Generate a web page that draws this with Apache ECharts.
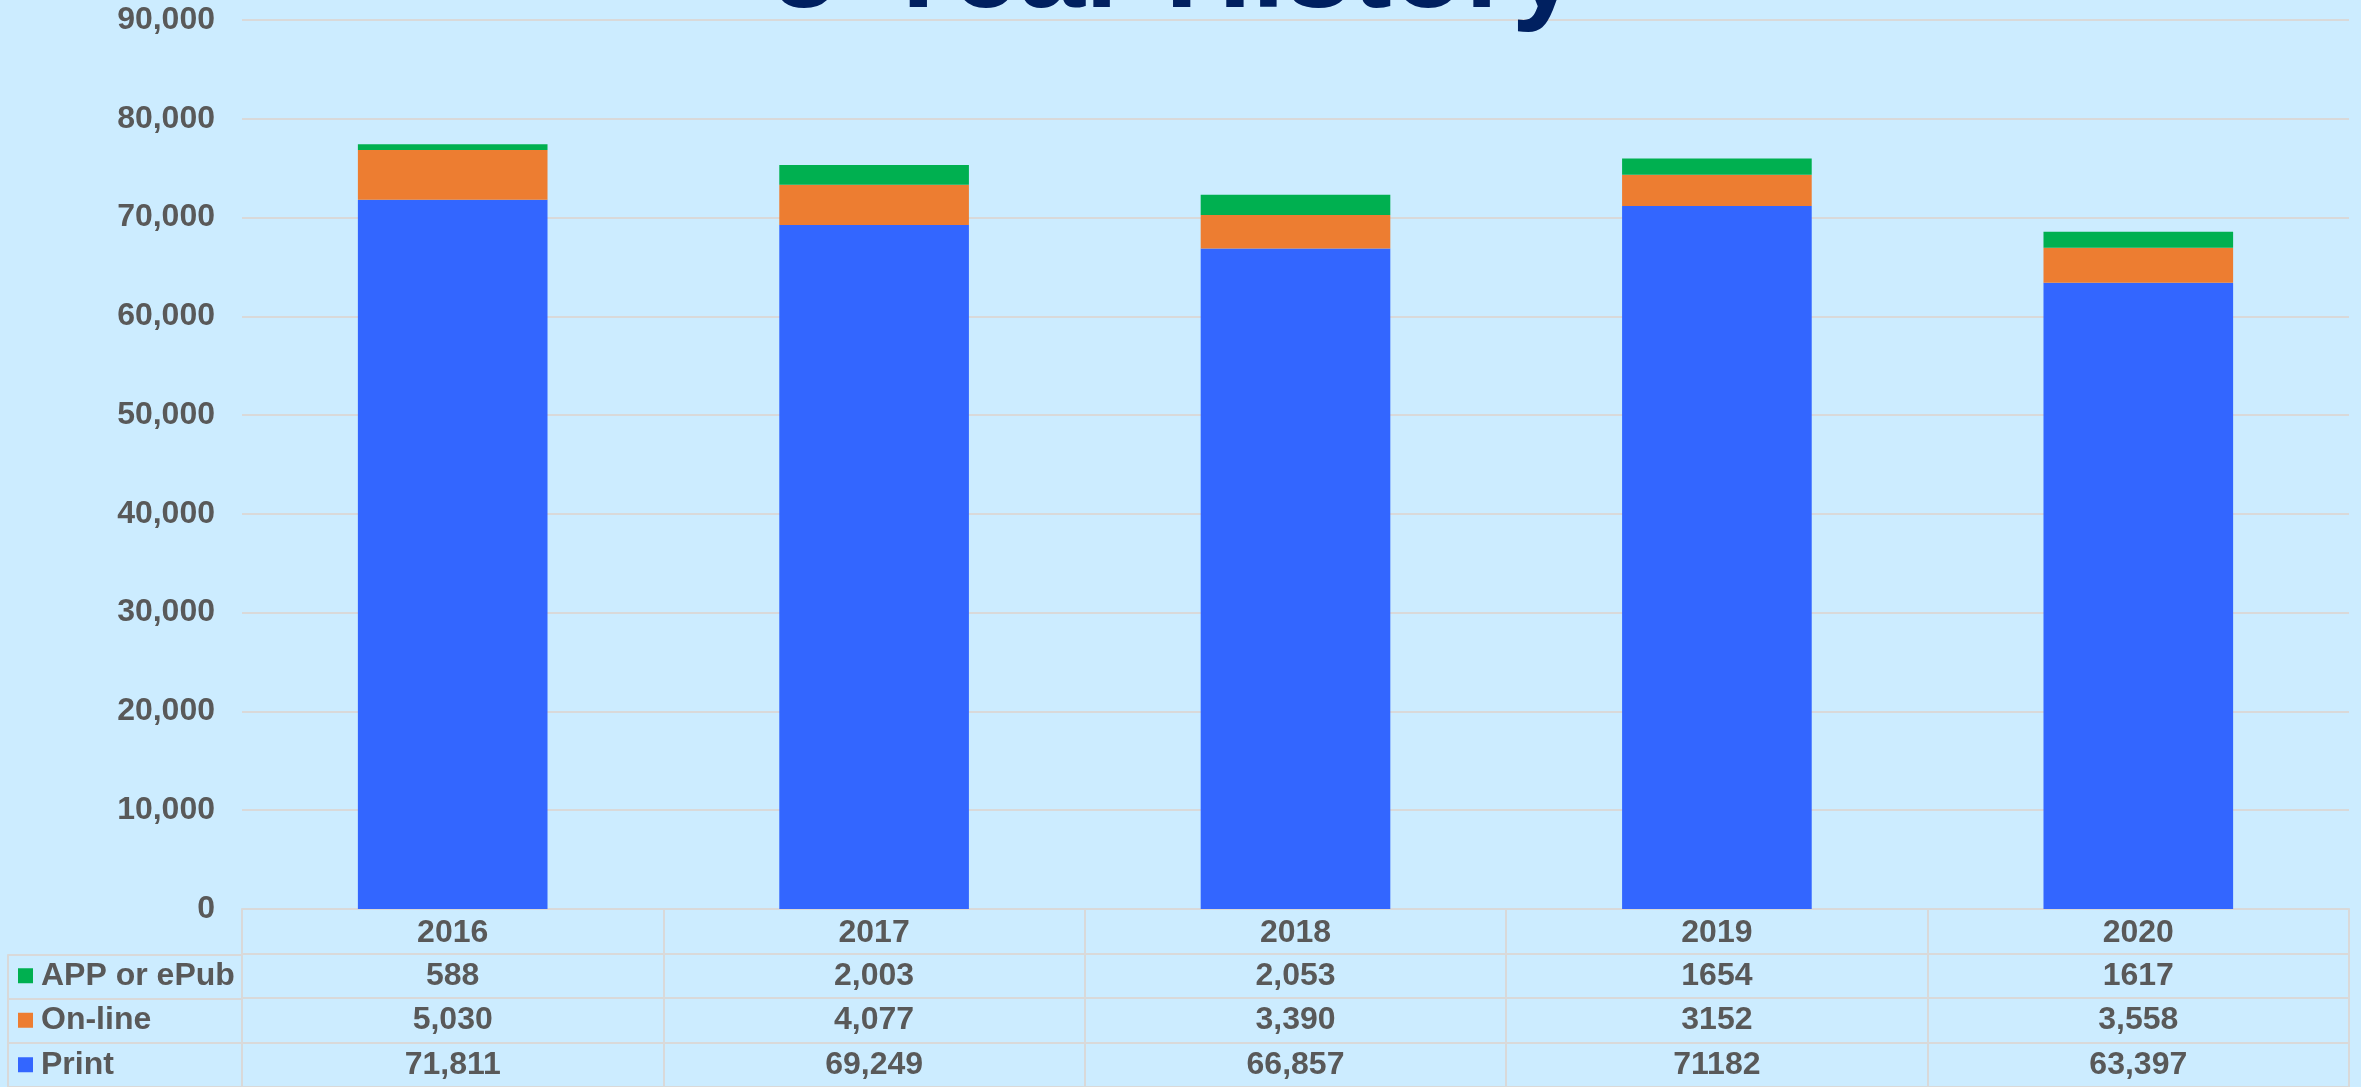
<!DOCTYPE html>
<html>
<head>
<meta charset="utf-8">
<script src="https://cdn.jsdelivr.net/npm/echarts@6/dist/echarts.min.js"></script>
<style>
html,body{margin:0;padding:0;background:#CCECFF;}
#c{width:2361px;height:1087px;}
</style>
</head>
<body>
<div id="c"></div>
<script>
const years = ['2016', '2017', '2018', '2019', '2020'];
const appText = ['588', '2,003', '2,053', '1654', '1617'];
const onlineText = ['5,030', '4,077', '3,390', '3152', '3,558'];
const printText = ['71,811', '69,249', '66,857', '71182', '63,397'];
const seriesNames = ['Print', 'On-line', 'APP or ePub'];
const seriesColors = ['#3366FF', '#ED7D31', '#00B050'];
const yTicks = { min: 0, max: 90000, interval: 10000 };
const toNum = s => Number(s.replace(/,/g, ''));
const printVals = printText.map(toNum);
const onlineVals = onlineText.map(toNum);
const appVals = appText.map(toNum);

const FONT = '"Liberation Sans", Arial, sans-serif';
const GRAY = '#595959';
const LINE = '#D9D9D9';
const FS = 32;
const rowCats = ['Print', 'On-line', 'APP or ePub', ''];

const cellData = [];
[printText, onlineText, appText].forEach((arr, r) => {
  arr.forEach((t, i) => cellData.push([years[i], rowCats[r], t]));
});

const chart = echarts.init(document.getElementById('c'));
chart.setOption({
  backgroundColor: '#CCECFF',
  animation: false,
  title: {
    text: '5-Year History', left: 1170, top: -91, textAlign: 'center',
    textStyle: { fontFamily: FONT, fontSize: 120, fontWeight: 'bold', color: '#002060' }
  },
  grid: [
    { left: 242, right: 12, top: 20, bottom: 178 },
    { left: 242, right: 12, top: 909, bottom: 0 },
    { left: 8, width: 234, top: 955, bottom: 0 }
  ],
  xAxis: [
    { type: 'category', gridIndex: 0, data: years,
      axisLine: { show: true, lineStyle: { color: LINE, width: 2 } },
      axisTick: { show: false },
      axisLabel: { margin: 8, fontFamily: FONT, fontSize: FS, fontWeight: 'bold', color: GRAY } },
    { type: 'category', gridIndex: 1, data: years,
      axisLine: { show: true, lineStyle: { color: LINE, width: 2 } },
      axisTick: { show: false }, axisLabel: { show: false },
      splitLine: { show: true, lineStyle: { color: LINE, width: 2 } } },
    { type: 'category', gridIndex: 2, data: [''],
      axisLine: { show: true, lineStyle: { color: LINE, width: 2 } },
      axisTick: { show: false }, axisLabel: { show: false },
      splitLine: { show: true, lineStyle: { color: LINE, width: 2 } } }
  ],
  yAxis: [
    { type: 'value', gridIndex: 0, min: yTicks.min, max: yTicks.max, interval: yTicks.interval,
      axisLine: { show: false }, axisTick: { show: false },
      splitLine: { lineStyle: { color: LINE, width: 2 } },
      axisLabel: { margin: 27, fontFamily: FONT, fontSize: FS, fontWeight: 'bold', color: GRAY,
        formatter: v => v.toLocaleString('en-US') } },
    { type: 'category', gridIndex: 1, data: rowCats,
      axisLine: { show: false }, axisTick: { show: false },
      splitLine: { show: true, lineStyle: { color: LINE, width: 2 } },
      axisLabel: {
        align: 'left', margin: 224,
        formatter: v => {
          const idx = seriesNames.indexOf(v);
          if (idx < 0) return '';
          return '{s' + idx + '|}{t|' + v + '}';
        },
        rich: {
          s0: { width: 15, height: 15, backgroundColor: seriesColors[0] },
          s1: { width: 15, height: 15, backgroundColor: seriesColors[1] },
          s2: { width: 15, height: 15, backgroundColor: seriesColors[2] },
          t: { padding: [0, 0, 0, 8], fontFamily: FONT, fontSize: FS, fontWeight: 'bold', color: GRAY }
        }
      } },
    { type: 'category', gridIndex: 2, data: ['a', 'b', 'c'],
      axisLine: { show: true, lineStyle: { color: LINE, width: 2 } }, axisTick: { show: false },
      axisLabel: { show: false },
      splitLine: { show: true, lineStyle: { color: LINE, width: 2 } } }
  ],
  series: [
    { name: 'Print', type: 'bar', stack: 'total', xAxisIndex: 0, yAxisIndex: 0,
      data: printVals, barWidth: '45%', itemStyle: { color: seriesColors[0] } },
    { name: 'On-line', type: 'bar', stack: 'total', xAxisIndex: 0, yAxisIndex: 0,
      data: onlineVals, barWidth: '45%', itemStyle: { color: seriesColors[1] } },
    { name: 'APP or ePub', type: 'bar', stack: 'total', xAxisIndex: 0, yAxisIndex: 0,
      data: appVals, barWidth: '45%', itemStyle: { color: seriesColors[2] } },
    { type: 'scatter', xAxisIndex: 1, yAxisIndex: 1, data: cellData, symbolSize: 1,
      itemStyle: { color: 'rgba(0,0,0,0)', opacity: 1 }, silent: true,
      label: { show: true, position: 'inside', formatter: p => p.value[2],
        fontFamily: FONT, fontSize: FS, fontWeight: 'bold', color: GRAY } }
  ]
});
</script>
</body>
</html>
